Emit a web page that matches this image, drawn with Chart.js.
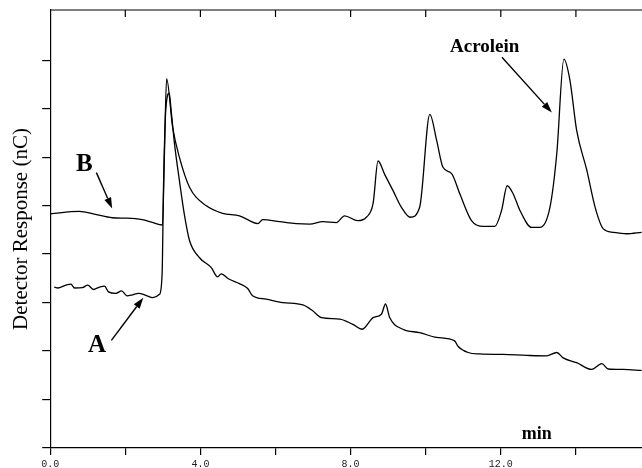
<!DOCTYPE html>
<html>
<head>
<meta charset="utf-8">
<script src="https://cdn.jsdelivr.net/npm/chart.js@4/dist/chart.umd.min.js"></script>
<style>
  html, body { margin: 0; padding: 0; background: #fff; }
  #wrap { width: 642px; height: 468px; }
</style>
</head>
<body>
<div id="wrap"><canvas id="chart"></canvas></div>
<script>
// trace B (upper) - time in min, detector response
const bTime = [0.00, 0.77, 1.20, 1.65, 2.05, 2.45, 2.70, 2.99, 3.04, 3.10, 3.26, 3.44, 3.71, 4.15, 4.59,
  5.04, 5.53, 5.66, 6.11, 6.55, 6.91, 7.26, 7.62, 7.84, 8.19, 8.42, 8.60, 8.73, 8.91, 9.13, 9.35,
  9.59, 9.84, 10.11, 10.29, 10.46, 10.69, 10.91, 11.22, 11.53, 11.84, 12.02, 12.17, 12.33, 12.51,
  12.82, 13.04, 13.31, 13.49, 13.68, 13.84, 14.02, 14.29, 14.51, 14.73, 14.99, 15.35, 15.75];
const bResponse = [4.83, 4.88, 4.82, 4.75, 4.74, 4.71, 4.66, 4.60, 6.00, 7.62, 6.62, 6.00, 5.38, 5.00, 4.84,
  4.79, 4.63, 4.71, 4.67, 4.63, 4.62, 4.67, 4.65, 4.79, 4.69, 4.76, 5.05, 5.92, 5.64, 5.31, 4.97,
  4.76, 4.97, 6.88, 6.35, 5.79, 5.66, 5.24, 4.69, 4.57, 4.57, 4.90, 5.41, 5.24, 4.90,
  4.55, 4.55, 4.97, 6.07, 8.02, 7.59, 6.55, 5.73, 4.97, 4.52, 4.45, 4.42, 4.45];

// trace A (lower)
const aTime = [0.11, 0.20, 0.42, 0.55, 0.65, 0.86, 1.00, 1.15, 1.31, 1.45, 1.55, 1.75, 1.90, 2.05, 2.19,
  2.35, 2.55, 2.73, 2.91, 2.98, 3.02, 3.08, 3.17, 3.22, 3.31, 3.44, 3.57, 3.71, 3.97, 4.29, 4.46,
  4.55, 4.77, 5.04, 5.26, 5.39, 5.75, 6.19, 6.73, 6.99, 7.22, 7.71, 8.06, 8.31, 8.60, 8.82, 8.93,
  9.04, 9.39, 9.84, 10.29, 10.77, 10.86, 11.13, 11.44, 12.06, 12.69, 13.22, 13.49, 13.66, 14.02,
  14.42, 14.69, 14.86, 15.26, 15.75];
const aResponse = [3.32, 3.30, 3.36, 3.38, 3.30, 3.31, 3.36, 3.27, 3.32, 3.34, 3.22, 3.19, 3.24, 3.14, 3.16,
  3.19, 3.15, 3.10, 3.17, 3.59, 5.50, 7.00, 7.32, 6.97, 6.28, 5.52, 4.83, 4.28, 3.93, 3.72, 3.53,
  3.59, 3.48, 3.39, 3.29, 3.14, 3.07, 3.00, 2.95, 2.83, 2.69, 2.66, 2.55, 2.45, 2.69, 2.76, 2.97,
  2.69, 2.45, 2.38, 2.28, 2.21, 2.10, 1.97, 1.94, 1.93, 1.91, 1.90, 1.97, 1.86, 1.76,
  1.62, 1.74, 1.63, 1.62, 1.60];

const X_MIN = 0;
const X_MAX = 15.76;
const Y_MIN = 0;
const Y_MAX = 9.035;

// labels and arrows, in data coordinates
const notes = [
  { text: 'B', x: 0.91, y: 5.85, size: 25, from: [1.23, 5.68], to: [1.65, 4.94] },
  { text: 'A', x: 1.25, y: 2.12, size: 25, from: [1.63, 2.22], to: [2.48, 3.10] },
  { text: 'Acrolein', x: 11.57, y: 8.27, size: 19, from: [12.03, 8.06], to: [13.36, 6.92] },
  { text: 'min', x: 12.96, y: 0.28, size: 18 }
];

function toPoints(xs, ys) {
  return xs.map((x, i) => ({ x: x, y: ys[i] }));
}

function drawArrow(ctx, x1, y1, x2, y2) {
  const ang = Math.atan2(y2 - y1, x2 - x1);
  const len = 11, half = 3.6;
  const bx = x2 - len * Math.cos(ang);
  const by = y2 - len * Math.sin(ang);
  ctx.beginPath();
  ctx.moveTo(x1, y1);
  ctx.lineTo(bx, by);
  ctx.stroke();
  ctx.beginPath();
  ctx.moveTo(x2, y2);
  ctx.lineTo(bx + half * Math.sin(ang), by - half * Math.cos(ang));
  ctx.lineTo(bx - half * Math.sin(ang), by + half * Math.cos(ang));
  ctx.closePath();
  ctx.fill();
}

// top frame line with inward ticks + annotations
const extrasPlugin = {
  id: 'extras',
  afterDraw(chart) {
    const { ctx, chartArea, scales } = chart;
    const x = scales.x, y = scales.y;
    ctx.save();
    ctx.strokeStyle = '#000';
    ctx.fillStyle = '#000';
    ctx.lineWidth = 1.2;
    ctx.beginPath();
    ctx.moveTo(chartArea.left, chartArea.top);
    ctx.lineTo(chartArea.right, chartArea.top);
    x.ticks.forEach(t => {
      const px = x.getPixelForValue(t.value);
      if (px <= chartArea.left + 1) return;
      ctx.moveTo(px, chartArea.top);
      ctx.lineTo(px, chartArea.top + 7);
    });
    ctx.stroke();

    ctx.textAlign = 'center';
    ctx.textBaseline = 'middle';
    ctx.lineWidth = 1.4;
    notes.forEach(n => {
      ctx.font = 'bold ' + n.size + 'px "Liberation Serif", "Times New Roman", serif';
      ctx.fillText(n.text, x.getPixelForValue(n.x), y.getPixelForValue(n.y));
      if (n.from) {
        drawArrow(ctx,
          x.getPixelForValue(n.from[0]), y.getPixelForValue(n.from[1]),
          x.getPixelForValue(n.to[0]), y.getPixelForValue(n.to[1]));
      }
    });
    ctx.restore();
  }
};

const lineStyle = {
  borderColor: '#000',
  borderWidth: 1.3,
  pointRadius: 0,
  cubicInterpolationMode: 'monotone',
  fill: false
};

new Chart(document.getElementById('chart'), {
  type: 'line',
  data: {
    datasets: [
      Object.assign({ label: 'B', data: toPoints(bTime, bResponse) }, lineStyle),
      Object.assign({ label: 'A', data: toPoints(aTime, aResponse) }, lineStyle)
    ]
  },
  options: {
    responsive: true,
    maintainAspectRatio: false,
    animation: false,
    layout: { padding: { top: 10, left: 0, right: 0, bottom: -5 } },
    plugins: {
      legend: { display: false },
      tooltip: { enabled: false }
    },
    scales: {
      x: {
        type: 'linear',
        min: X_MIN,
        max: X_MAX,
        border: { color: '#000', width: 1.2 },
        grid: { drawOnChartArea: false, drawTicks: true, tickLength: 7, color: '#000', lineWidth: 1.2 },
        ticks: {
          stepSize: 2,
          includeBounds: false,
          autoSkip: false,
          maxRotation: 0,
          padding: 3,
          color: '#222',
          font: { family: '"Liberation Mono", "DejaVu Sans Mono", monospace', size: 10 },
          callback: v => (v % 4 === 0 ? v.toFixed(1) : '')
        }
      },
      y: {
        min: Y_MIN,
        max: Y_MAX,
        border: { color: '#000', width: 1.2 },
        grid: {
          drawOnChartArea: false,
          drawTicks: true,
          tickLength: 8,
          lineWidth: 1.2,
          color: c => (c.tick && c.tick.value >= 9 ? 'rgba(0,0,0,0)' : '#000')
        },
        ticks: { display: false, stepSize: 1, includeBounds: false },
        title: {
          display: true,
          text: 'Detector Response (nC)',
          color: '#000',
          font: { family: '"Liberation Serif", "Times New Roman", serif', size: 21, weight: 'normal' },
          padding: { top: 9, bottom: 8 }
        }
      }
    }
  },
  plugins: [extrasPlugin]
});
</script>
</body>
</html>
